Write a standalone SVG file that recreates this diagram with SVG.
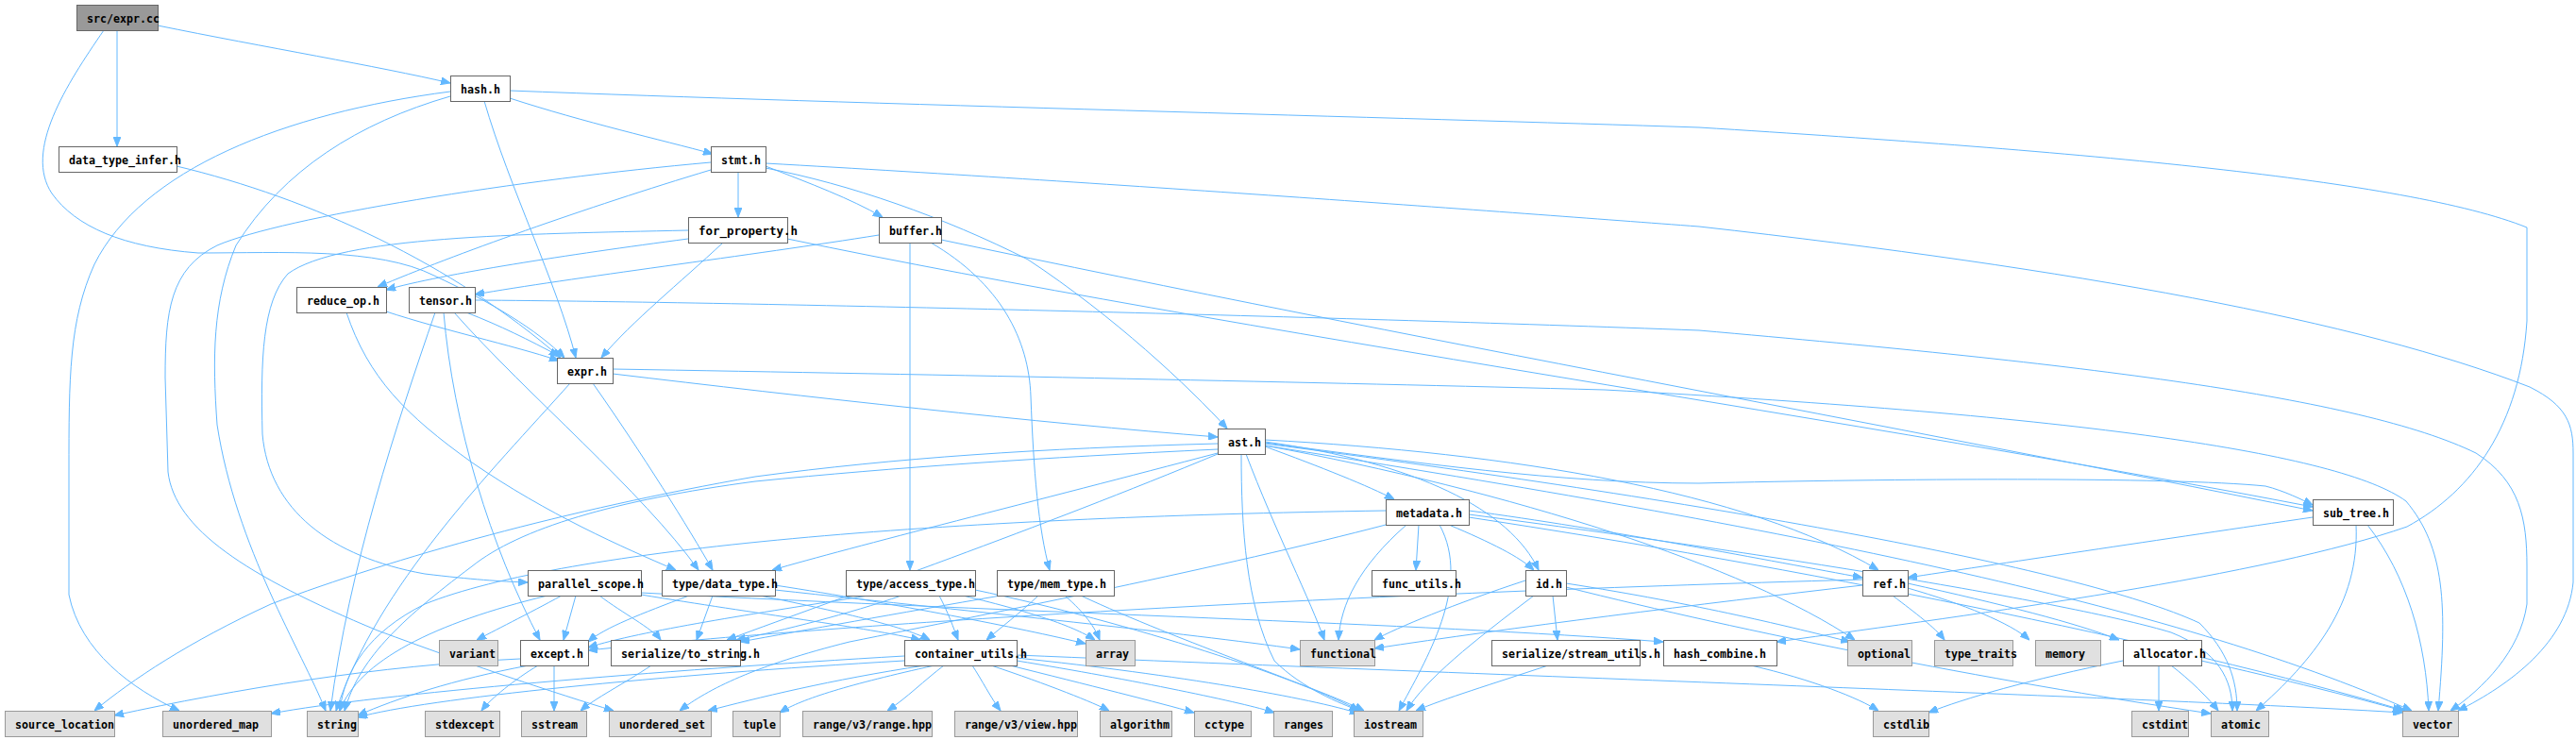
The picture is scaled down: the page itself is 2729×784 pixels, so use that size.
<svg xmlns="http://www.w3.org/2000/svg" width="2729" height="784" viewBox="0 0 2729 784">
<style>
.n rect{fill:#ffffff;stroke:#666666;stroke-width:1}
.x rect{fill:#e0e0e0;stroke:#999999;stroke-width:1}
.r rect{fill:#999999;stroke:#666666;stroke-width:1}
text{font-family:"DejaVu Sans Mono","Liberation Mono",monospace;font-size:13px;font-weight:bold;fill:#000000}
#edges path{fill:none;stroke:#63b8ff;stroke-width:1;marker-end:url(#a)}
</style>
<defs>
<marker id="a" viewBox="0 0 10 8" refX="10" refY="4" markerWidth="10" markerHeight="8" markerUnits="userSpaceOnUse" orient="auto"><path d="M0,0 L10,4 L0,8 z" fill="#63b8ff" stroke="#63b8ff" stroke-width="1"/></marker>
</defs>
<rect width="2729" height="784" fill="#ffffff"/>
<g id="edges">
<path d="M167,27 C280,50 400,70 477,88"/>
<path d="M124,32 L124,155"/>
<path d="M110,32 C70,90 25,160 55,205 C80,240 130,262 210,268 C300,268 400,262 460,292 C520,320 570,350 598,379"/>
<path d="M540,104 C620,130 700,148 755,163"/>
<path d="M513,107 C540,200 590,300 610,379"/>
<path d="M477,97 C300,120 150,180 100,280 C73,340 73,400 73,500 L73,630 C85,690 140,730 190,753"/>
<path d="M477,102 C380,130 300,180 250,260 C225,320 225,380 230,450 C250,580 320,690 345,753"/>
<path d="M540,96 C900,110 1500,125 1800,135 C2200,160 2550,190 2677,241 L2677,340 C2670,450 2620,520 2550,558 C2400,610 2100,650 1882,680"/>
<path d="M187,176 C330,210 480,280 594,379"/>
<path d="M782,182 L782,230"/>
<path d="M811,176 C860,195 900,210 935,230"/>
<path d="M753,180 C620,220 480,270 400,304"/>
<path d="M753,172 C550,190 300,230 230,260 C180,285 175,330 175,400 L178,500 C185,560 260,610 400,668 C500,705 590,735 650,753"/>
<path d="M811,178 C900,195 1000,230 1089,275 C1180,335 1260,410 1300,454"/>
<path d="M811,173 C1200,195 1600,225 1800,240 C2200,285 2500,340 2680,410 C2720,430 2726,450 2726,480 L2726,617 C2720,680 2660,725 2604,753"/>
<path d="M729,253 C600,270 470,290 409,307"/>
<path d="M729,244 C550,248 360,250 305,290 C278,320 276,380 278,460 C285,540 350,590 450,608 C500,614 530,616 559,617"/>
<path d="M766,257 C720,300 670,340 637,379"/>
<path d="M834,253 C1300,350 2000,450 2450,537"/>
<path d="M931,249 C800,270 600,295 503,312"/>
<path d="M964,257 L964,604"/>
<path d="M986,257 C1060,300 1090,360 1092,420 C1095,500 1100,560 1112,604"/>
<path d="M997,254 C1500,360 2000,450 2450,541"/>
<path d="M409,330 C470,350 540,365 592,382"/>
<path d="M367,331 C390,400 430,440 500,490 C580,545 660,580 716,604"/>
<path d="M494,331 C530,345 560,360 592,377"/>
<path d="M481,331 C560,420 680,520 740,604"/>
<path d="M470,331 C480,450 520,580 572,678"/>
<path d="M461,331 C420,450 370,600 350,753"/>
<path d="M503,318 C800,320 1400,335 1800,350 C2200,385 2500,420 2623,480 C2670,510 2677,550 2677,600 L2677,640 C2670,690 2630,730 2596,753"/>
<path d="M649,396 C850,420 1100,448 1290,463"/>
<path d="M649,391 C1000,397 1400,405 1700,413 C2200,440 2480,480 2549,531 C2590,580 2593,640 2583,753"/>
<path d="M604,406 C520,500 400,620 356,753"/>
<path d="M628,406 C680,480 730,560 755,604"/>
<path d="M1290,470 C1100,475 950,485 800,505 C600,540 420,590 287,640 C200,680 140,720 100,753"/>
<path d="M1290,476 C1100,485 950,495 800,510 C650,530 550,560 500,600 C420,660 380,700 365,753"/>
<path d="M1290,480 C1100,530 900,580 818,604"/>
<path d="M1290,481 C1100,560 900,630 770,678"/>
<path d="M1315,481 C1315,560 1320,640 1350,700 C1380,730 1420,745 1440,753"/>
<path d="M1320,481 C1350,560 1390,640 1403,678"/>
<path d="M1340,473 C1400,495 1450,515 1477,529"/>
<path d="M1340,468 C1500,490 1600,540 1630,604"/>
<path d="M1340,466 C1600,480 1850,520 1990,604"/>
<path d="M1340,469 C1500,490 1650,512 1800,512 C2000,507 2300,505 2400,515 C2420,520 2440,530 2450,535"/>
<path d="M1340,472 C1600,520 1850,600 1965,678"/>
<path d="M1340,470 C1800,530 2200,600 2330,660 C2360,690 2370,720 2370,753"/>
<path d="M1340,472 C1900,560 2300,640 2555,753"/>
<path d="M1468,541 C1000,548 600,580 450,640 C390,670 365,710 360,753"/>
<path d="M1468,556 C1300,600 1050,650 900,680 C800,705 750,730 720,753"/>
<path d="M1490,556 C1440,600 1420,640 1418,678"/>
<path d="M1503,556 L1500,604"/>
<path d="M1525,556 C1560,620 1510,700 1482,753"/>
<path d="M1535,556 C1580,575 1610,590 1625,604"/>
<path d="M1556,541 C1700,560 1880,595 1973,612"/>
<path d="M1556,545 C1900,590 2200,640 2300,670 C2350,690 2365,720 2365,753"/>
<path d="M1556,548 C1900,600 2300,680 2548,753"/>
<path d="M580,631 C460,660 380,700 360,753"/>
<path d="M595,631 C560,650 520,670 505,678"/>
<path d="M610,631 L597,678"/>
<path d="M635,631 C660,650 690,665 700,678"/>
<path d="M679,630 C800,650 920,665 975,678"/>
<path d="M679,628 C1100,650 1500,660 1762,680"/>
<path d="M730,631 C680,650 640,665 623,680"/>
<path d="M755,631 L738,678"/>
<path d="M805,631 C900,650 960,665 985,678"/>
<path d="M821,620 C950,640 1080,665 1150,682"/>
<path d="M821,625 C1050,650 1250,670 1377,688"/>
<path d="M920,631 C800,650 680,668 623,686"/>
<path d="M955,631 C900,650 830,668 780,678"/>
<path d="M995,631 C1005,650 1010,665 1015,678"/>
<path d="M1020,631 C1100,650 1140,665 1160,678"/>
<path d="M1033,625 C1200,660 1380,720 1440,753"/>
<path d="M1060,631 C950,650 850,668 784,680"/>
<path d="M1100,631 C1080,650 1060,665 1045,678"/>
<path d="M1128,631 C1150,650 1160,665 1165,678"/>
<path d="M1145,631 C1250,680 1400,730 1445,753"/>
<path d="M1616,615 C1540,640 1480,665 1456,678"/>
<path d="M1625,631 C1560,680 1510,720 1490,753"/>
<path d="M1645,631 L1650,678"/>
<path d="M1659,618 C1800,640 1900,665 1960,680"/>
<path d="M1659,622 C1850,670 2100,720 2342,756"/>
<path d="M1640,705 C1580,725 1530,740 1500,753"/>
<path d="M1973,614 C1400,630 900,660 623,689"/>
<path d="M1973,620 C1800,640 1600,665 1456,687"/>
<path d="M2005,631 C2030,650 2050,665 2060,678"/>
<path d="M2021,623 C2080,640 2130,660 2150,678"/>
<path d="M2021,618 C2120,640 2200,660 2245,678"/>
<path d="M2450,548 C2300,570 2100,600 2021,612"/>
<path d="M2496,556 C2500,640 2450,700 2390,753"/>
<path d="M2508,556 C2550,610 2570,680 2573,753"/>
<path d="M551,698 C400,705 250,730 121,758"/>
<path d="M560,705 C480,720 420,740 379,758"/>
<path d="M570,705 C545,720 520,740 510,753"/>
<path d="M587,705 L587,753"/>
<path d="M690,705 C660,725 630,740 615,753"/>
<path d="M958,695 C700,710 400,735 287,756"/>
<path d="M958,700 C700,715 450,740 379,760"/>
<path d="M980,705 C880,720 800,740 750,753"/>
<path d="M990,705 C900,725 850,740 826,755"/>
<path d="M1000,705 C980,720 960,740 940,753"/>
<path d="M1030,705 C1040,720 1050,740 1060,753"/>
<path d="M1050,705 C1110,725 1160,745 1175,753"/>
<path d="M1070,705 C1150,725 1230,745 1265,755"/>
<path d="M1077,700 C1200,720 1320,745 1350,755"/>
<path d="M1077,697 C1250,715 1390,740 1440,756"/>
<path d="M1077,694 C1700,720 2300,740 2545,755"/>
<path d="M2249,700 C2150,720 2080,740 2043,755"/>
<path d="M2287,705 L2287,753"/>
<path d="M2300,705 C2320,720 2340,740 2350,753"/>
<path d="M2332,700 C2420,720 2500,740 2545,753"/>
<path d="M1855,705 C1920,720 1970,740 1990,753"/>
</g>
<g id="node_src_expr_cc" class="r"><rect x="81.5" y="5.5" width="86" height="27"/><text x="92" y="24" textLength="77" lengthAdjust="spacingAndGlyphs">src/expr.cc</text></g>
<g id="node_hash_h" class="n"><rect x="477.5" y="80.5" width="63" height="27"/><text x="488" y="99" textLength="42" lengthAdjust="spacingAndGlyphs">hash.h</text></g>
<g id="node_data_type_infer_h" class="n"><rect x="62.5" y="155.5" width="125" height="27"/><text x="73" y="174" textLength="119" lengthAdjust="spacingAndGlyphs">data_type_infer.h</text></g>
<g id="node_stmt_h" class="n"><rect x="753.5" y="155.5" width="58" height="27"/><text x="764" y="174" textLength="42" lengthAdjust="spacingAndGlyphs">stmt.h</text></g>
<g id="node_for_property_h" class="n"><rect x="729.5" y="230.5" width="105" height="27"/><text x="740" y="249" textLength="105" lengthAdjust="spacingAndGlyphs">for_property.h</text></g>
<g id="node_buffer_h" class="n"><rect x="931.5" y="230.5" width="66" height="27"/><text x="942" y="249" textLength="56" lengthAdjust="spacingAndGlyphs">buffer.h</text></g>
<g id="node_reduce_op_h" class="n"><rect x="314.5" y="304.5" width="95" height="27"/><text x="325" y="323" textLength="77" lengthAdjust="spacingAndGlyphs">reduce_op.h</text></g>
<g id="node_tensor_h" class="n"><rect x="433.5" y="304.5" width="70" height="27"/><text x="444" y="323" textLength="56" lengthAdjust="spacingAndGlyphs">tensor.h</text></g>
<g id="node_expr_h" class="n"><rect x="590.5" y="379.5" width="59" height="27"/><text x="601" y="398" textLength="42" lengthAdjust="spacingAndGlyphs">expr.h</text></g>
<g id="node_ast_h" class="n"><rect x="1290.5" y="454.5" width="50" height="27"/><text x="1301" y="473" textLength="35" lengthAdjust="spacingAndGlyphs">ast.h</text></g>
<g id="node_metadata_h" class="n"><rect x="1468.5" y="529.5" width="88" height="27"/><text x="1479" y="548" textLength="70" lengthAdjust="spacingAndGlyphs">metadata.h</text></g>
<g id="node_sub_tree_h" class="n"><rect x="2450.5" y="529.5" width="85" height="27"/><text x="2461" y="548" textLength="70" lengthAdjust="spacingAndGlyphs">sub_tree.h</text></g>
<g id="node_parallel_scope_h" class="n"><rect x="559.5" y="604.5" width="120" height="27"/><text x="570" y="623" textLength="112" lengthAdjust="spacingAndGlyphs">parallel_scope.h</text></g>
<g id="node_type_data_type_h" class="n"><rect x="701.5" y="604.5" width="120" height="27"/><text x="712" y="623" textLength="112" lengthAdjust="spacingAndGlyphs">type/data_type.h</text></g>
<g id="node_type_access_type_h" class="n"><rect x="896.5" y="604.5" width="137" height="27"/><text x="907" y="623" textLength="126" lengthAdjust="spacingAndGlyphs">type/access_type.h</text></g>
<g id="node_type_mem_type_h" class="n"><rect x="1056.5" y="604.5" width="124" height="27"/><text x="1067" y="623" textLength="105" lengthAdjust="spacingAndGlyphs">type/mem_type.h</text></g>
<g id="node_func_utils_h" class="n"><rect x="1453.5" y="604.5" width="89" height="27"/><text x="1464" y="623" textLength="84" lengthAdjust="spacingAndGlyphs">func_utils.h</text></g>
<g id="node_id_h" class="n"><rect x="1616.5" y="604.5" width="43" height="27"/><text x="1627" y="623" textLength="28" lengthAdjust="spacingAndGlyphs">id.h</text></g>
<g id="node_ref_h" class="n"><rect x="1973.5" y="604.5" width="48" height="27"/><text x="1984" y="623" textLength="35" lengthAdjust="spacingAndGlyphs">ref.h</text></g>
<g id="node_variant" class="x"><rect x="465.5" y="678.5" width="62" height="27"/><text x="476" y="697" textLength="49" lengthAdjust="spacingAndGlyphs">variant</text></g>
<g id="node_except_h" class="n"><rect x="551.5" y="678.5" width="72" height="27"/><text x="562" y="697" textLength="56" lengthAdjust="spacingAndGlyphs">except.h</text></g>
<g id="node_serialize_to_string_h" class="n"><rect x="647.5" y="678.5" width="137" height="27"/><text x="658" y="697" textLength="147" lengthAdjust="spacingAndGlyphs">serialize/to_string.h</text></g>
<g id="node_container_utils_h" class="n"><rect x="958.5" y="678.5" width="119" height="27"/><text x="969" y="697" textLength="119" lengthAdjust="spacingAndGlyphs">container_utils.h</text></g>
<g id="node_array" class="x"><rect x="1150.5" y="678.5" width="52" height="27"/><text x="1161" y="697" textLength="35" lengthAdjust="spacingAndGlyphs">array</text></g>
<g id="node_functional" class="x"><rect x="1377.5" y="678.5" width="79" height="27"/><text x="1388" y="697" textLength="70" lengthAdjust="spacingAndGlyphs">functional</text></g>
<g id="node_serialize_stream_utils_h" class="n"><rect x="1580.5" y="678.5" width="157" height="27"/><text x="1591" y="697" textLength="168" lengthAdjust="spacingAndGlyphs">serialize/stream_utils.h</text></g>
<g id="node_hash_combine_h" class="n"><rect x="1762.5" y="678.5" width="120" height="27"/><text x="1773" y="697" textLength="98" lengthAdjust="spacingAndGlyphs">hash_combine.h</text></g>
<g id="node_optional" class="x"><rect x="1957.5" y="678.5" width="68" height="27"/><text x="1968" y="697" textLength="56" lengthAdjust="spacingAndGlyphs">optional</text></g>
<g id="node_type_traits" class="x"><rect x="2049.5" y="678.5" width="83" height="27"/><text x="2060" y="697" textLength="77" lengthAdjust="spacingAndGlyphs">type_traits</text></g>
<g id="node_memory" class="x"><rect x="2156.5" y="678.5" width="69" height="27"/><text x="2167" y="697" textLength="42" lengthAdjust="spacingAndGlyphs">memory</text></g>
<g id="node_allocator_h" class="n"><rect x="2249.5" y="678.5" width="83" height="27"/><text x="2260" y="697" textLength="77" lengthAdjust="spacingAndGlyphs">allocator.h</text></g>
<g id="node_source_location" class="x"><rect x="5.5" y="753.5" width="116" height="27"/><text x="16" y="772" textLength="105" lengthAdjust="spacingAndGlyphs">source_location</text></g>
<g id="node_unordered_map" class="x"><rect x="172.5" y="753.5" width="115" height="27"/><text x="183" y="772" textLength="91" lengthAdjust="spacingAndGlyphs">unordered_map</text></g>
<g id="node_string" class="x"><rect x="325.5" y="753.5" width="54" height="27"/><text x="336" y="772" textLength="42" lengthAdjust="spacingAndGlyphs">string</text></g>
<g id="node_stdexcept" class="x"><rect x="450.5" y="753.5" width="79" height="27"/><text x="461" y="772" textLength="63" lengthAdjust="spacingAndGlyphs">stdexcept</text></g>
<g id="node_sstream" class="x"><rect x="552.5" y="753.5" width="69" height="27"/><text x="563" y="772" textLength="49" lengthAdjust="spacingAndGlyphs">sstream</text></g>
<g id="node_unordered_set" class="x"><rect x="645.5" y="753.5" width="108" height="27"/><text x="656" y="772" textLength="91" lengthAdjust="spacingAndGlyphs">unordered_set</text></g>
<g id="node_tuple" class="x"><rect x="776.5" y="753.5" width="50" height="27"/><text x="787" y="772" textLength="35" lengthAdjust="spacingAndGlyphs">tuple</text></g>
<g id="node_range_v3_range_hpp" class="x"><rect x="850.5" y="753.5" width="137" height="27"/><text x="861" y="772" textLength="126" lengthAdjust="spacingAndGlyphs">range/v3/range.hpp</text></g>
<g id="node_range_v3_view_hpp" class="x"><rect x="1011.5" y="753.5" width="130" height="27"/><text x="1022" y="772" textLength="119" lengthAdjust="spacingAndGlyphs">range/v3/view.hpp</text></g>
<g id="node_algorithm" class="x"><rect x="1165.5" y="753.5" width="76" height="27"/><text x="1176" y="772" textLength="63" lengthAdjust="spacingAndGlyphs">algorithm</text></g>
<g id="node_cctype" class="x"><rect x="1265.5" y="753.5" width="60" height="27"/><text x="1276" y="772" textLength="42" lengthAdjust="spacingAndGlyphs">cctype</text></g>
<g id="node_ranges" class="x"><rect x="1349.5" y="753.5" width="62" height="27"/><text x="1360" y="772" textLength="42" lengthAdjust="spacingAndGlyphs">ranges</text></g>
<g id="node_iostream" class="x"><rect x="1434.5" y="753.5" width="73" height="27"/><text x="1445" y="772" textLength="56" lengthAdjust="spacingAndGlyphs">iostream</text></g>
<g id="node_cstdlib" class="x"><rect x="1984.5" y="753.5" width="59" height="27"/><text x="1995" y="772" textLength="49" lengthAdjust="spacingAndGlyphs">cstdlib</text></g>
<g id="node_cstdint" class="x"><rect x="2258.5" y="753.5" width="60" height="27"/><text x="2269" y="772" textLength="49" lengthAdjust="spacingAndGlyphs">cstdint</text></g>
<g id="node_atomic" class="x"><rect x="2342.5" y="753.5" width="61" height="27"/><text x="2353" y="772" textLength="42" lengthAdjust="spacingAndGlyphs">atomic</text></g>
<g id="node_vector" class="x"><rect x="2545.5" y="753.5" width="59" height="27"/><text x="2556" y="772" textLength="42" lengthAdjust="spacingAndGlyphs">vector</text></g>
</svg>
